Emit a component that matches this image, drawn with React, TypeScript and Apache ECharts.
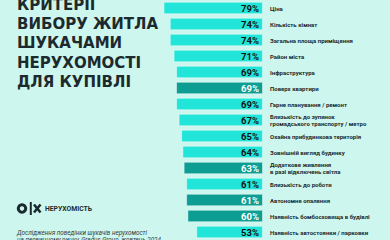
import React, { useEffect, useRef } from "react";
import * as echarts from "echarts";

const categories = [
  "Ціна",
  "Кількість кімнат",
  "Загальна площа приміщення",
  "Район міста",
  "Інфраструктура",
  "Поверх квартири",
  "Гарне планування / ремонт",
  "Близькість до зупинок\nгромадського транспорту / метро",
  "Охайна прибудинкова територія",
  "Зовнішній вигляд будинку",
  "Додаткове живлення\nв разі відключень світла",
  "Близькість до роботи",
  "Автономне опалення",
  "Наявність бомбосховища в будівлі",
  "Наявність автостоянки / парковки",
];
const values = [79, 74, 74, 71, 69, 69, 69, 67, 65, 64, 63, 61, 61, 60, 53];
const highlighted = [false, false, false, false, false, true, false, false, false, false, true, false, true, true, false];
const titleLines = ["КРИТЕРІЇ", "ВИБОРУ ЖИТЛА", "ШУКАЧАМИ", "НЕРУХОМОСТІ", "ДЛЯ КУПІВЛІ"];
const footerLines = [
  "Дослідження поведінки шукачів нерухомості",
  "на первинному ринку, Gradus Group, жовтень 2024",
];

const BG = "#cdf6ee";
const CYAN = "#22e5d9";
const TEAL = "#0c9d93";
const DARK = "#1d2a2d";

export default function App() {
  const ref = useRef<HTMLDivElement>(null);
  useEffect(() => {
    if (!ref.current) return;
    const chart = echarts.init(ref.current, undefined, { renderer: "svg" });
    const titleGraphics = titleLines.map((t, i) => ({
      type: "text",
      x: 17,
      y: 5 + i * 19.2,
      style: {
        text: t,
        fill: DARK,
        font: "bold 15px 'DejaVu Sans'",
        textVerticalAlign: "middle",
        textAlign: "left",
      },
    }));
    const footerGraphics = footerLines.map((t, i) => ({
      type: "text",
      x: 17,
      y: 233.3 + i * 6.6,
      style: {
        text: t,
        fill: "#33403f",
        font: "italic 6.3px Roboto",
        textVerticalAlign: "middle",
        textAlign: "left",
      },
    }));
    chart.setOption({
      animation: false,
      backgroundColor: BG,
      grid: { left: 137, right: 127, top: -4.3, height: 248.4, containLabel: false },
      xAxis: { type: "value", min: 0, max: 100, inverse: true, show: false },
      yAxis: {
        type: "category",
        data: categories,
        inverse: true,
        position: "right",
        axisLine: { show: false, onZero: false },
        axisTick: { show: false },
        axisLabel: {
          margin: 7,
          fontSize: 6,
          fontWeight: "bold",
          fontFamily: "Roboto",
          color: DARK,
          lineHeight: 7.4,
          align: "left",
        },
      },
      series: [
        {
          type: "bar",
          barWidth: 12.5,
          data: values.map((v, i) => ({
            value: v,
            itemStyle: { color: highlighted[i] ? TEAL : CYAN },
            label: { color: highlighted[i] ? "#ffffff" : "#111111" },
          })),
          itemStyle: { borderColor: "rgba(255,255,255,0.45)", borderWidth: 1 },
          label: {
            show: true,
            position: "insideRight",
            distance: 4,
            formatter: "{c}%",
            fontFamily: "Roboto",
            fontWeight: "bold",
            fontSize: 9.5,
          },
        },
      ],
      graphic: [
        ...titleGraphics,
        {
          type: "ring",
          shape: { cx: 22, cy: 208.5, r: 5.2, r0: 2.2 },
          style: { fill: DARK },
        },
        { type: "rect", shape: { x: 29.8, y: 202, width: 2, height: 13 }, style: { fill: DARK } },
        { type: "line", shape: { x1: 34, y1: 204.5, x2: 40.5, y2: 212.5 }, style: { stroke: DARK, lineWidth: 2.6 } },
        { type: "line", shape: { x1: 40.5, y1: 204.5, x2: 34, y2: 212.5 }, style: { stroke: DARK, lineWidth: 2.6 } },
        {
          type: "text",
          x: 45,
          y: 209,
          style: {
            text: "НЕРУХОМІСТЬ",
            fill: DARK,
            font: "bold 6.8px Roboto",
            textVerticalAlign: "middle",
            textAlign: "left",
          },
        },
        ...footerGraphics,
      ],
    });
    return () => chart.dispose();
  }, []);
  return (
    <div
      ref={ref}
      style={{ position: "fixed", left: 0, top: 0, width: 390, height: 240 }}
    />
  );
}
